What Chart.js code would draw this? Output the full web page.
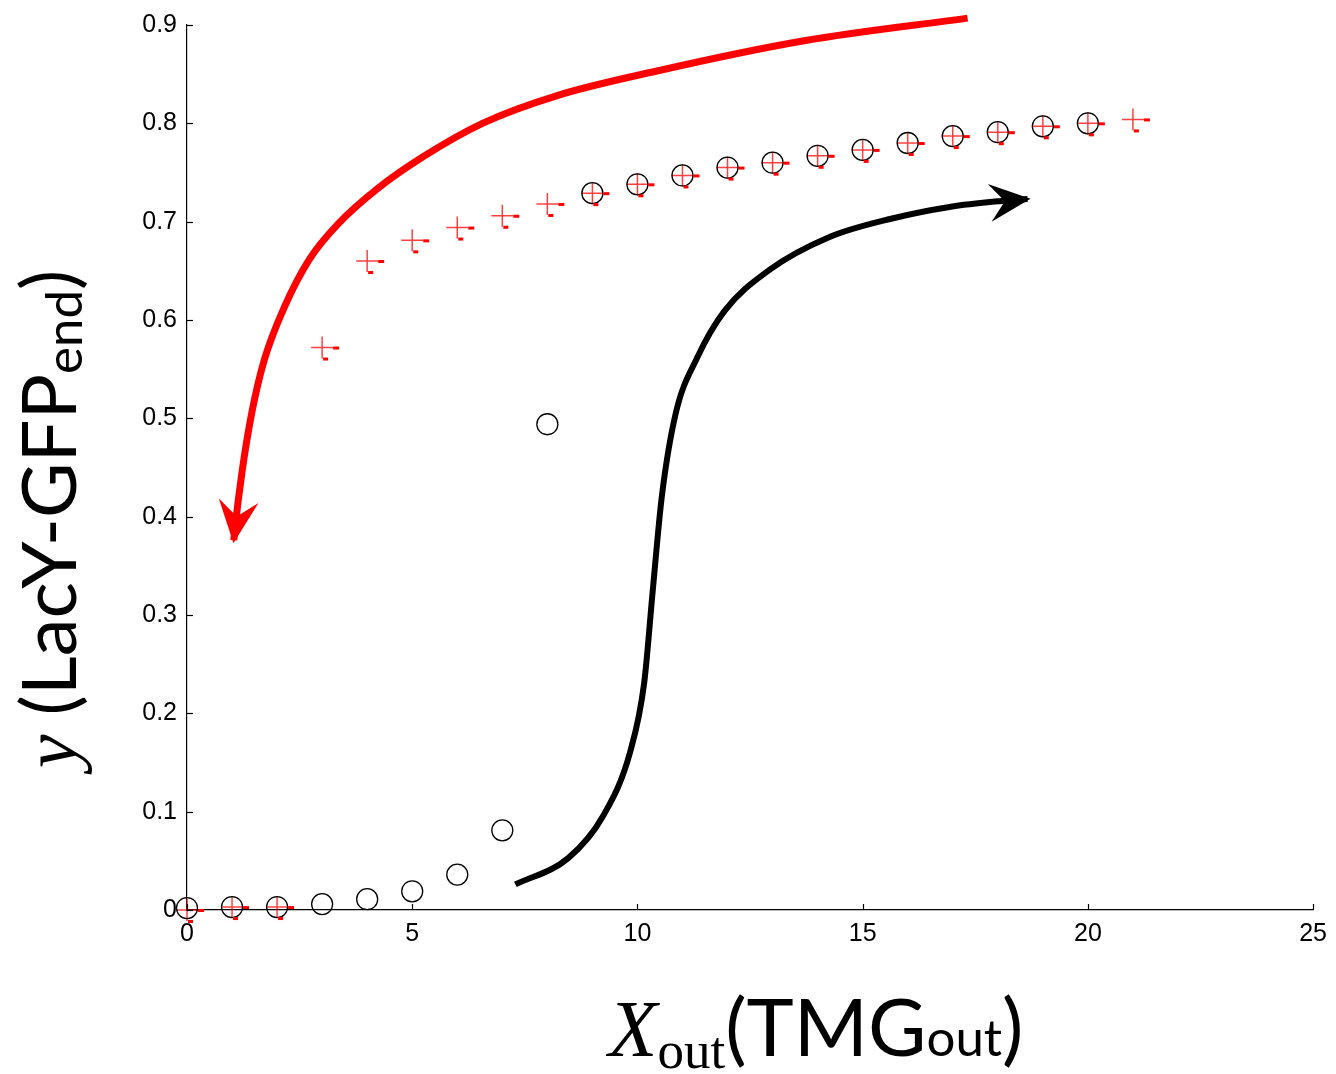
<!DOCTYPE html>
<html>
<head>
<meta charset="utf-8">
<script src="https://cdn.jsdelivr.net/npm/chart.js@4/dist/chart.umd.min.js"></script>
<style>
  html, body { margin: 0; padding: 0; background: #fff; }
  #wrap { width: 1336px; height: 1074px; }
</style>
</head>
<body>
<div id="wrap"><canvas id="myChart"></canvas></div>
<script>
'use strict'

// TMG concentrations (x) and LacY-GFP levels
const xCircle = [0, 1, 2, 3, 4, 5, 6, 7, 8, 9, 10, 11, 12, 13, 14, 15, 16, 17, 18, 19, 20];
const yCircle = [0.002, 0.003, 0.003, 0.006, 0.011, 0.019, 0.036, 0.081, 0.494, 0.729, 0.738, 0.747, 0.755, 0.760, 0.767, 0.773, 0.780, 0.787, 0.791, 0.797, 0.800];

const xPlus = [0, 1, 2, 3, 4, 5, 6, 7, 8, 9, 10, 11, 12, 13, 14, 15, 16, 17, 18, 19, 20, 21];
const yPlus = [0.0, 0.003, 0.003, 0.572, 0.660, 0.681, 0.694, 0.706, 0.718, 0.729, 0.738, 0.747, 0.755, 0.760, 0.767, 0.773, 0.780, 0.787, 0.791, 0.797, 0.800, 0.804];

// hand drawn arrows (decreasing branch in red, increasing branch in black)
const xRedArrow = [17.33, 13.70, 10.41, 8.20, 6.56, 5.24, 4.24, 3.36, 2.72, 2.17, 1.72, 1.44, 1.22, 1.06, 1.04];
const yRedArrow = [0.907, 0.884, 0.853, 0.828, 0.800, 0.766, 0.734, 0.698, 0.662, 0.614, 0.560, 0.506, 0.445, 0.386, 0.376];
const xBlackArrow = [7.29, 8.47, 9.23, 9.84, 10.15, 10.34, 10.54, 10.85, 11.32, 11.93, 12.93, 14.24, 15.63, 16.93, 18.08, 18.66];
const yBlackArrow = [0.026, 0.053, 0.095, 0.161, 0.231, 0.325, 0.420, 0.505, 0.561, 0.609, 0.651, 0.684, 0.703, 0.715, 0.721, 0.723];

const xTicks = [0, 5, 10, 15, 20, 25];
const yTicks = [0, 0.1, 0.2, 0.3, 0.4, 0.5, 0.6, 0.7, 0.8, 0.9];

function toPoints(xs, ys) {
  return xs.map((x, i) => ({ x: x, y: ys[i] }));
}

// arrow heads + little red dashes on the plus markers + tick marks + titles
const extras = {
  id: 'extras',
  afterDatasetsDraw(chart) {
    const ctx = chart.ctx;
    chart.data.datasets.forEach((ds, i) => {
      const meta = chart.getDatasetMeta(i);
      if (ds.dashes) {
        ctx.save();
        ctx.fillStyle = '#ff0000';
        meta.data.forEach(p => {
          ctx.fillRect(p.x + 11, p.y - 1, 6, 3);
          ctx.fillRect(p.x + 1, p.y + 10, 5, 3);
        });
        ctx.restore();
      }
      if (ds.arrowHead) {
        const pts = meta.data;
        const a = pts[pts.length - 1];
        const b = pts[pts.length - 3];
        const ang = Math.atan2(a.y - b.y, a.x - b.x);
        const L = ds.arrowHead;
        ctx.save();
        ctx.translate(a.x, a.y);
        ctx.rotate(ang);
        ctx.fillStyle = ds.borderColor;
        ctx.beginPath();
        ctx.moveTo(3, 0);
        ctx.lineTo(-L, -L * 0.5);
        ctx.lineTo(-L * 0.6, 0);
        ctx.lineTo(-L, L * 0.5);
        ctx.closePath();
        ctx.fill();
        ctx.restore();
      }
    });
  },
  afterDraw(chart) {
    const ctx = chart.ctx;
    const xs = chart.scales.x, ys = chart.scales.y;
    const area = chart.chartArea;
    ctx.save();
    ctx.strokeStyle = '#000';
    ctx.lineWidth = 1.2;
    yTicks.forEach(v => {
      const py = Math.round(ys.getPixelForValue(v)) + 0.5;
      ctx.beginPath();
      ctx.moveTo(area.left, py);
      ctx.lineTo(area.left + 6, py);
      ctx.stroke();
    });
    xTicks.forEach(v => {
      const px = Math.round(xs.getPixelForValue(v)) + 0.5;
      ctx.beginPath();
      ctx.moveTo(px, area.bottom);
      ctx.lineTo(px, area.bottom - 6);
      ctx.stroke();
    });
    ctx.restore();

    // x axis title: X_out(TMG_out)
    const xParts = [
      { t: 'X', f: 'italic 80px "Liberation Serif"', dy: 0 },
      { t: 'out', f: '53px "Liberation Serif"', dy: 12 },
      { t: '(TMG', f: '80px Lato', dy: 0 },
      { t: 'out', f: '51px Lato', dy: 0 },
      { t: ')', f: '80px Lato', dy: 0 }
    ];
    ctx.save();
    ctx.fillStyle = '#000';
    ctx.textBaseline = 'alphabetic';
    let total = 0;
    xParts.forEach(p => { ctx.font = p.f; p.w = ctx.measureText(p.t).width; total += p.w; });
    let cx = 816 - total / 2;
    xParts.forEach(p => { ctx.font = p.f; ctx.fillText(p.t, cx, 1056 + p.dy); cx += p.w; });
    ctx.restore();

    // y axis title: y (LacY-GFP_end)
    const yParts = [
      { t: 'y ', f: 'italic 76px "Liberation Serif"', dy: 0 },
      { t: '(LacY-GFP', f: '76px Lato', dy: 0 },
      { t: 'end', f: '51px Lato', dy: 6 },
      { t: ')', f: '76px Lato', dy: 0 }
    ];
    ctx.save();
    ctx.translate(76, 519);
    ctx.rotate(-Math.PI / 2);
    ctx.fillStyle = '#000';
    let tot = 0;
    yParts.forEach(p => { ctx.font = p.f; p.w = ctx.measureText(p.t).width; tot += p.w; });
    let cy = -tot / 2;
    yParts.forEach(p => { ctx.font = p.f; ctx.fillText(p.t, cy, p.dy); cy += p.w; });
    ctx.restore();
  }
};

function chartResults() {
  const ctx = document.getElementById('myChart').getContext('2d');
  const myChart = new Chart(ctx, {
    type: 'scatter',
    data: {
      datasets: [{
        label: 'increasing',
        data: toPoints(xCircle, yCircle),
        pointStyle: 'circle',
        pointRadius: 10.5,
        pointBorderWidth: 1.3,
        pointBorderColor: '#000',
        pointBackgroundColor: 'rgba(0,0,0,0)',
        showLine: false,
        clip: false
      }, {
        label: 'decreasing',
        data: toPoints(xPlus, yPlus),
        pointStyle: 'cross',
        pointRadius: 11,
        pointBorderWidth: 1.5,
        pointBorderColor: 'rgba(255,0,0,0.75)',
        showLine: false,
        clip: false,
        dashes: true
      }, {
        label: 'red arrow',
        data: toPoints(xRedArrow, yRedArrow),
        showLine: true,
        borderColor: '#ff0000',
        borderWidth: 7,
        pointRadius: 0,
        cubicInterpolationMode: 'monotone',
        clip: false,
        arrowHead: 40
      }, {
        label: 'black arrow',
        data: toPoints(xBlackArrow, yBlackArrow),
        showLine: true,
        borderColor: '#000',
        borderWidth: 6,
        pointRadius: 0,
        cubicInterpolationMode: 'monotone',
        clip: false,
        arrowHead: 38
      }]
    },
    options: {
      responsive: true,
      maintainAspectRatio: false,
      animation: false,
      layout: { padding: { top: 22, right: 18, left: 0, bottom: 0 } },
      plugins: { legend: { display: false }, tooltip: { enabled: false } },
      scales: {
        x: {
          type: 'linear',
          min: 0,
          max: 25,
          afterFit: s => { s.height = 164; },
          afterBuildTicks: s => { s.ticks = xTicks.map(v => ({ value: v })); },
          grid: { drawOnChartArea: false, drawTicks: false },
          border: { color: '#000', width: 1.2 },
          ticks: { color: '#000', padding: 9, font: { family: '"Liberation Sans"', size: 25 } }
        },
        y: {
          type: 'linear',
          min: 0,
          max: 0.9,
          afterFit: s => { s.width = 187; },
          afterBuildTicks: s => { s.ticks = yTicks.map(v => ({ value: v })); },
          grid: { drawOnChartArea: false, drawTicks: false },
          border: { color: '#000', width: 1.2 },
          ticks: {
            color: '#000',
            padding: 10,
            font: { family: '"Liberation Sans"', size: 25 },
            callback: v => v === 0 ? '0' : v.toFixed(1)
          }
        }
      }
    },
    plugins: [extras]
  });
}

chartResults();
</script>
</body>
</html>
